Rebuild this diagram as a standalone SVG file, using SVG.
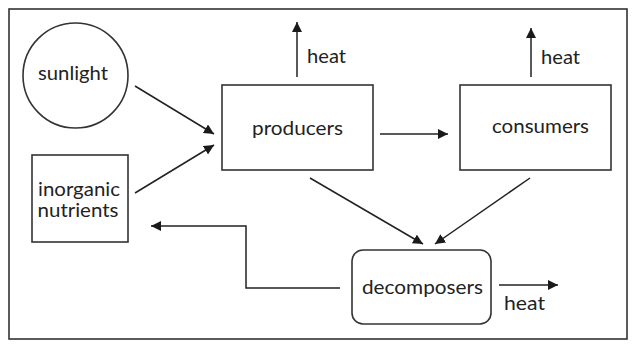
<svg xmlns="http://www.w3.org/2000/svg" width="633" height="345" viewBox="0 0 633 345">
<defs>
<marker id="ah" viewBox="0 0 10 10" refX="10" refY="5" markerWidth="10" markerHeight="10" markerUnits="userSpaceOnUse" orient="auto">
<path d="M0,0 L10,5 L0,10 Z" fill="#1a1a1a"/>
</marker>
</defs>
<style>
.n{fill:#fff;stroke:#333;stroke-width:1.6}
.t{font-family:Lato,"Noto Sans",sans-serif;font-size:19px;fill:#222}
.c{fill:none;stroke:#222;stroke-width:1.5;marker-end:url(#ah)}
</style>
<rect width="633" height="345" fill="#fff"/>
<rect x="9" y="9" width="618" height="330" fill="none" stroke="#333" stroke-width="1.6"/>
<g id="sunlight"><circle class="n" cx="75.5" cy="75.5" r="52.5"/><text class="t" x="73" y="80" text-anchor="middle" textLength="70" lengthAdjust="spacingAndGlyphs">sunlight</text></g>
<g id="inorganic-nutrients"><rect class="n" x="32" y="155" width="96" height="87"/><text class="t" x="79" y="196" text-anchor="middle" textLength="82" lengthAdjust="spacingAndGlyphs">inorganic</text><text class="t" x="78" y="217" text-anchor="middle" textLength="81" lengthAdjust="spacingAndGlyphs">nutrients</text></g>
<g id="producers"><rect class="n" x="222" y="85" width="151" height="85"/><text class="t" x="297.5" y="135" text-anchor="middle" textLength="91" lengthAdjust="spacingAndGlyphs">producers</text></g>
<g id="consumers"><rect class="n" x="460" y="85" width="151" height="85"/><text class="t" x="540.5" y="133" text-anchor="middle" textLength="97" lengthAdjust="spacingAndGlyphs">consumers</text></g>
<g id="decomposers"><rect class="n" x="352" y="250" width="139" height="74" rx="11"/><text class="t" x="422.5" y="294" text-anchor="middle" textLength="121" lengthAdjust="spacingAndGlyphs">decomposers</text></g>
<g id="connectors">
<line class="c" x1="135" y1="86" x2="214" y2="134"/>
<line class="c" x1="135" y1="193" x2="214" y2="145"/>
<line class="c" x1="380" y1="134" x2="448" y2="134"/>
<line class="c" x1="297" y1="77" x2="297" y2="22"/>
<line class="c" x1="531" y1="77" x2="531" y2="28"/>
<line class="c" x1="310" y1="178" x2="423" y2="244"/>
<line class="c" x1="530" y1="178" x2="435" y2="244"/>
<line class="c" x1="499" y1="285" x2="558" y2="285"/>
<polyline class="c" points="340,288 246,288 246,226 151,226"/>
</g>
<g id="labels">
<text class="t" x="307" y="63" textLength="39" lengthAdjust="spacingAndGlyphs">heat</text>
<text class="t" x="541" y="64" textLength="39" lengthAdjust="spacingAndGlyphs">heat</text>
<text class="t" x="504" y="310" textLength="41" lengthAdjust="spacingAndGlyphs">heat</text>
</g>
</svg>
